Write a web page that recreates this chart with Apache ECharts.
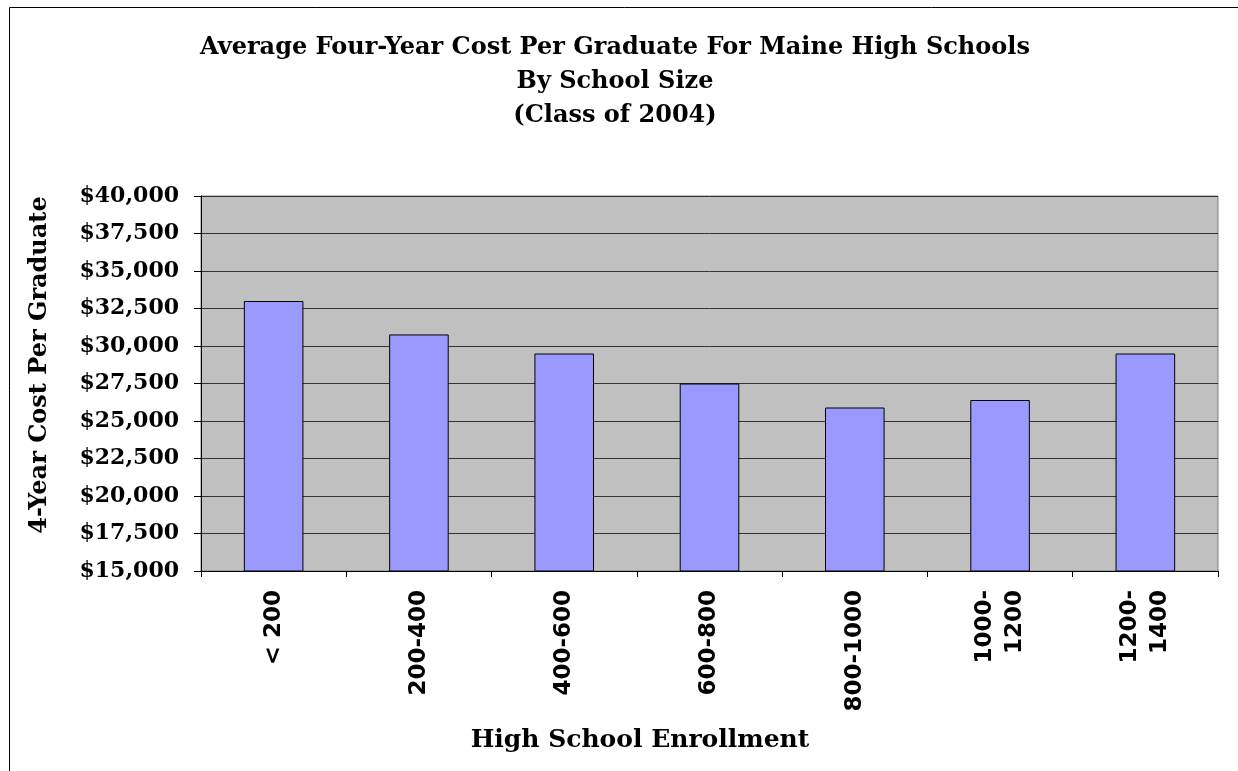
<!DOCTYPE html>
<html>
<head>
<meta charset="utf-8">
<script src="https://cdn.jsdelivr.net/npm/echarts@6/dist/echarts.min.js"></script>
<style>
html,body{margin:0;padding:0;background:#fff;}
#chart{width:1238px;height:771px;}
</style>
</head>
<body>
<div id="chart"></div>
<script>
const categories = ['< 200', '200-400', '400-600', '600-800', '800-1000', '1000-\n1200', '1200-\n1400'];
const costPerGraduate = [33000, 30770, 29500, 27500, 25900, 26400, 29500];
const yTicks = { min: 15000, max: 40000, interval: 2500 };
const titleLines = ['Average Four-Year Cost Per Graduate For Maine High Schools', 'By School Size', '(Class of 2004)'];
const xTitle = 'High School Enrollment';
const yTitle = '4-Year Cost Per Graduate';

const FONT = '"DejaVu Serif", serif';
const SANS = '"DejaVu Sans", sans-serif';
const chart = echarts.init(document.getElementById('chart'), null, { renderer: 'canvas' });

chart.setOption({
  animation: false,
  backgroundColor: '#ffffff',
  title: {
    text: titleLines.join('\n'),
    left: 610,
    textAlign: 'center',
    top: 26,
    textStyle: { fontFamily: FONT, fontWeight: 'bold', fontSize: 24, lineHeight: 34, color: '#000' }
  },
  graphic: [
    { type: 'rect', shape: { x: 9.5, y: 7.5, width: 1260, height: 800 }, style: { fill: 'none', stroke: '#000', lineWidth: 1 }, silent: true, z: 100 },
    { type: 'text', x: 640, y: 740, style: { text: xTitle, font: 'bold 25px ' + FONT, fill: '#000', align: 'center', verticalAlign: 'middle' } },
    { type: 'text', x: 40, y: 365, rotation: Math.PI / 2, style: { text: yTitle, font: 'bold 24px ' + FONT, fill: '#000', align: 'center', verticalAlign: 'middle' } }
  ],
  grid: { left: 201, right: 20, top: 196, bottom: 200, show: true, backgroundColor: '#c0c0c0', borderColor: '#808080', borderWidth: 1 },
  xAxis: {
    type: 'category',
    data: categories,
    axisLine: { show: true, lineStyle: { color: '#000', width: 1 } },
    axisTick: { show: true, length: 6, lineStyle: { color: '#000' }, alignWithLabel: false },
    axisLabel: { rotate: 90, margin: 19, fontFamily: SANS, fontWeight: 'bold', fontSize: 23, color: '#000', lineHeight: 30, interval: 0 },
    splitLine: { show: false }
  },
  yAxis: {
    type: 'value',
    min: yTicks.min,
    max: yTicks.max,
    interval: yTicks.interval,
    axisLine: { show: true, lineStyle: { color: '#000', width: 1 } },
    axisTick: { show: true, length: 7, lineStyle: { color: '#000' } },
    axisLabel: {
      margin: 22, fontFamily: FONT, fontWeight: 'bold', fontSize: 22, color: '#000',
      formatter: v => '$' + v.toLocaleString('en-US')
    },
    splitLine: { show: true, lineStyle: { color: '#333', width: 1 } }
  },
  series: [{
    type: 'bar',
    data: costPerGraduate,
    barWidth: '41%',
    itemStyle: { color: '#9999ff', borderColor: '#000', borderWidth: 1 }
  }]
});
</script>
</body>
</html>
